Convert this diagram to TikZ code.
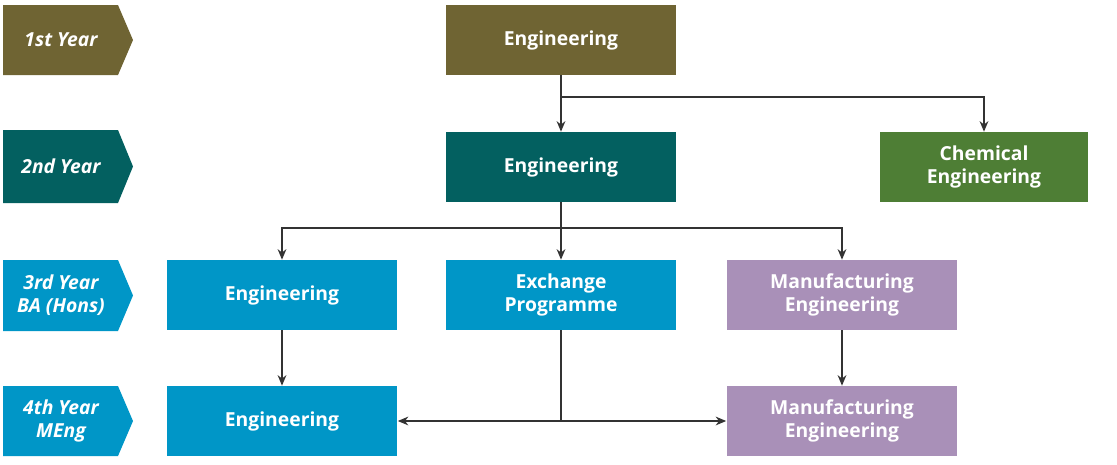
\documentclass[tikz,border=0pt]{standalone}
\usepackage{fontspec}
\setmainfont{Open Sans}
\usetikzlibrary{arrows.meta}
\usetikzlibrary{calc}
\definecolor{olive}{HTML}{6F6433}
\definecolor{teal2}{HTML}{036060}
\definecolor{leaf}{HTML}{4E7E35}
\definecolor{sky}{HTML}{0096C7}
\definecolor{lilac}{HTML}{A990B8}
\tikzset{
  box/.style={minimum width=4.62cm,minimum height=1.4cm,text=white,align=center,
    font=\fontsize{11}{13}\selectfont\bfseries,inner sep=0pt},
  link/.style={draw=black!80,line width=0.6pt,-{Stealth[length=6pt,width=5pt]}},
  tag/.style={text=white,align=center,font=\fontsize{11}{13}\selectfont\bfseries\itshape}
}
\begin{document}
\begin{tikzpicture}[x=0.02cm,y=-0.02cm]
                \useasboundingbox (0,0) rectangle (1117,464);
                % year chevrons
                \foreach \c/\t/\b/\txt in {olive/5/75/1st Year,teal2/130/203/2nd Year,sky/260/331/3rd Year\\BA (Hons),sky/386/456/4th Year\\MEng} {
                    \fill[\c] (3,\t) -- (118,\t) -- (133,{(\t+\b)/2}) -- (118,\b) -- (3,\b) -- cycle;
                    \node[tag] at (61,{(\t+\b)/2}) {\txt};
                }
                \node[box,fill=olive] (E1) at (561,40) {Engineering};
                \node[box,fill=teal2] (E2) at (561,167) {Engineering};
                \node[box,fill=leaf,minimum width=4.16cm] (CH) at (984,167) {Chemical\\Engineering};
                \node[box,fill=sky] (E3) at (282,295) {Engineering};
                \node[box,fill=sky] (EX) at (561,295) {Exchange\\Programme};
                \node[box,fill=lilac] (M3) at (842,295) {Manufacturing\\Engineering};
                \node[box,fill=sky] (E4) at (282,421) {Engineering};
                \node[box,fill=lilac] (M4) at (842,421) {Manufacturing\\Engineering};
                \coordinate (s1) at (561,97);
                \coordinate (s2) at (561,228);
                \coordinate (s3) at (561,421);
                \draw[link] (E1) -- (E2);
                \draw[link] (s1) -| (CH.north);
                \draw[link] (E2) -- (EX);
                \draw[link] (s2) -| (E3.north);
                \draw[link] (s2) -| (M3.north);
                \draw[link] (E3) -- (E4);
                \draw[link] (M3) -- (M4);
                \draw[draw=black!80,line width=0.6pt] (EX.south) -- (s3);
                \draw[link] (s3) -- (E4.east);
                \draw[link] (s3) -- (M4.west);
            \end{tikzpicture}
\end{document}
